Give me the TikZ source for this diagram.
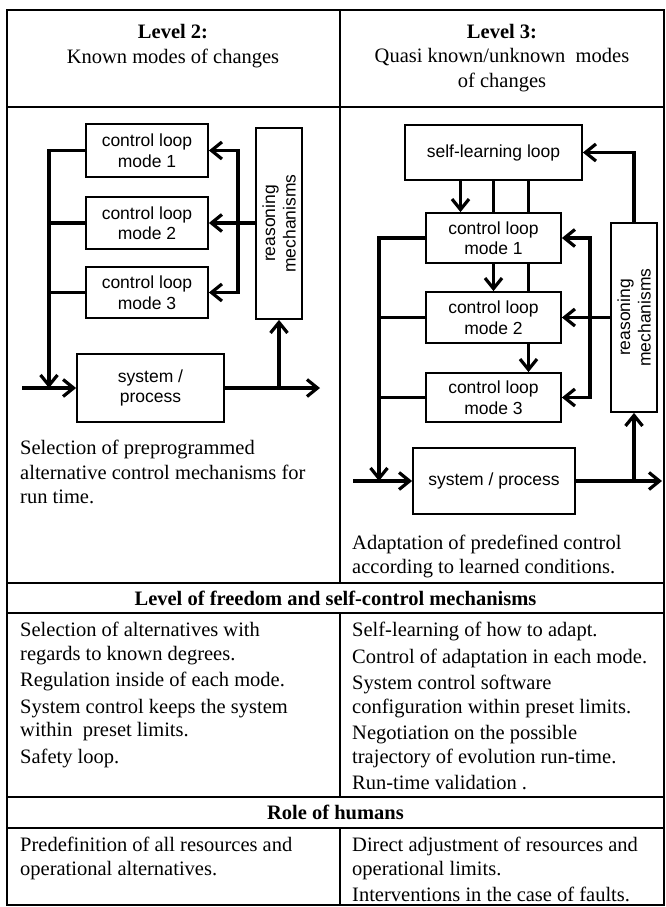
\documentclass[tikz,border=0pt]{standalone}
\usepackage{fontspec}
\setmainfont{Liberation Serif}
\setsansfont{Liberation Sans}
\usetikzlibrary{arrows.meta,positioning}
\tikzset{
    grid/.style={line width=1.6pt},
    box/.style={draw, line width=1.8pt, inner sep=0pt, align=center, font=\sffamily\fontsize{17.5}{20.5}\selectfont},
    boxtxt/.style={inner sep=0pt, align=center, font=\sffamily\fontsize{17.5}{20.5}\selectfont},
    link/.style={line width=3.2pt},
    arr/.style={-{Straight Barb[length=10.5pt,width=17pt]}},
    cell/.style={inner sep=0pt, align=left, anchor=north west, font=\fontsize{20.5}{23.5}\selectfont},
    head/.style={inner sep=0pt, align=center, font=\fontsize{20.5}{24.5}\selectfont}
}

\begin{document}
\begin{tikzpicture}[x=1pt, y=-1pt]
    \useasboundingbox (0,0) rectangle (665,907);
    % table
    \draw[grid] (7,10) rectangle (664,905);
    \foreach \y in {107,583,613,797,828} \draw[grid] (7,\y) -- (664,\y);
    \draw[grid] (340,10) -- (340,583) (340,613) -- (340,797) (340,828) -- (340,905);

    \node[head] (hl) at (173,46) {\textbf{Level 2:}\\Known modes of changes};
    \node[head] (hr) at (502,58) {\textbf{Level 3:}\\Quasi known/unknown\ \ modes\\of changes};
    \node[head] (hfree) at (335.5,598.5) {\textbf{Level of freedom and self-control mechanisms}};
    \node[head] (hrole) at (335.5,812.5) {\textbf{Role of humans}};

    \node[cell] (cl1) at (20,440) {Selection of preprogrammed\\[1pt]alternative control mechanisms for\\[1pt]run time.};
    \node[cell] (cr1) at (352,535) {Adaptation of predefined control\\according to learned conditions.};
    \node[cell] (cl2) at (20,622) {Selection of alternatives with\\regards to known degrees.\\[3pt]Regulation inside of each mode.\\[3pt]System control keeps the system\\within\ \ preset limits.\\[3pt]Safety loop.};
    \node[cell] (cr2) at (352,622) {Self-learning of how to adapt.\\[3pt]Control of adaptation in each mode.\\[3pt]System control software\\configuration within preset limits.\\[3pt]Negotiation on the possible\\trajectory of evolution run-time.\\[3pt]Run-time validation .};
    \node[cell] (cl3) at (20,837) {Predefinition of all resources and\\operational alternatives.};
    \node[cell] (cr3) at (352,837) {Direct adjustment of resources and\\operational limits.\\[3pt]Interventions in the case of faults.};

    % level 2 loop
    \node[box, minimum width=122pt, minimum height=53pt] (lm1) at (147,150.5) {control loop\\mode 1};
    \node[box, minimum width=122pt, minimum height=52pt] (lm2) at (147,223) {control loop\\mode 2};
    \node[box, minimum width=122pt, minimum height=51pt] (lm3) at (147,292.5) {control loop\\mode 3};
    \node[box, minimum width=46pt, minimum height=191pt] (lrsn) at (279,223.5) {};
    \node[boxtxt, rotate=90] (lrsntxt) at (lrsn) {reasoning\\mechanisms};
    \node[box, minimum width=147pt, minimum height=68pt] (lsys) at (150.5,388) {system /\\process};
    \coordinate (lin) at (22,388);
    \coordinate (lout) at (320,388);
    \coordinate (lbus) at (49,388);
    \coordinate (lfb) at (238,223);

    \draw[link,arr] (lin) -- (lsys.west);
    \draw[link,arr] (lsys.east) -- (lout);
    \draw[link,arr] (lsys.east -| lrsn.south) -- (lrsn.south);
    \draw[link,arr] (lm1.west) -| (lbus);
    \draw[link] (lm2.west) -- (lm2.west -| lbus);
    \draw[link] (lm3.west) -- (lm3.west -| lbus);
    \draw[link,arr] (lrsn.west |- lm2) -- (lm2.east);
    \draw[link,arr] (lfb) |- (lm1.east);
    \draw[link,arr] (lfb) |- (lm3.east);

    % level 3 loop
    \node[box, minimum width=177pt, minimum height=55pt] (rsl) at (493.5,152.5) {self-learning loop};
    \node[box, minimum width=135pt, minimum height=50pt] (rm1) at (493.5,238) {control loop\\mode 1};
    \node[box, minimum width=135pt, minimum height=51pt] (rm2) at (493.5,317.5) {control loop\\mode 2};
    \node[box, minimum width=135pt, minimum height=49pt] (rm3) at (493.5,397.5) {control loop\\mode 3};
    \node[box, minimum width=46pt, minimum height=189pt] (rrsn) at (634,317.5) {};
    \node[boxtxt, rotate=90] (rrsntxt) at (rrsn) {reasoning\\mechanisms};
    \node[box, minimum width=162pt, minimum height=66pt] (rsys) at (494,481) {system / process};
    \coordinate (rin) at (353,481);
    \coordinate (rout) at (662,481);
    \coordinate (rbus) at (379,481);
    \coordinate (rfb) at (590,317.5);

    \draw[link,arr] (rin) -- (rsys.west);
    \draw[link,arr] (rsys.east) -- (rout);
    \draw[link,arr] (rsys.east -| rrsn.south) -- (rrsn.south);
    \draw[link,arr] (rrsn.north) |- (rsl.east);
    \draw[link,arr] (rm1.west) -| (rbus);
    \draw[link] (rm2.west) -- (rm2.west -| rbus);
    \draw[link] (rm3.west) -- (rm3.west -| rbus);
    \draw[link,arr] (rrsn.west |- rm2) -- (rm2.east);
    \draw[link,arr] (rfb) |- (rm1.east);
    \draw[link,arr] (rfb) |- (rm3.east);
    \draw[link,arr] ([xshift=-33pt]rsl.south) -- ([xshift=-33pt]rm1.north);
    \draw[link] (rsl.south) -- (rm1.north);
    \draw[link,arr] (rm1.south) -- (rm2.north);
    \draw[link] ([xshift=35pt]rsl.south) -- ([xshift=35pt]rm1.north);
    \draw[link] ([xshift=35pt]rm1.south) -- ([xshift=35pt]rm2.north);
    \draw[link,arr] ([xshift=35pt]rm2.south) -- ([xshift=35pt]rm3.north);
\end{tikzpicture}
\end{document}
